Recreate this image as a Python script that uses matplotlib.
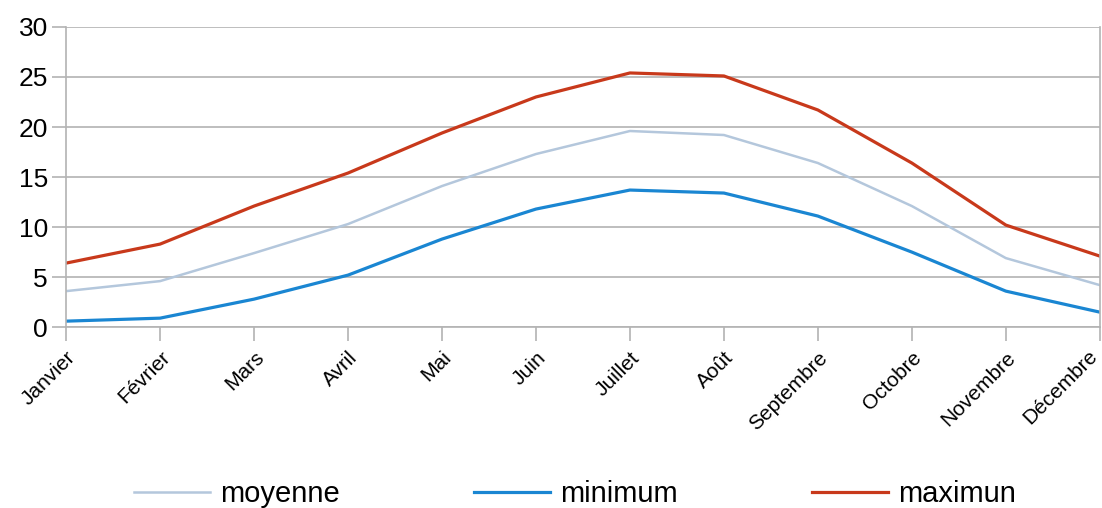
import matplotlib.pyplot as plt
from matplotlib import font_manager
from matplotlib.transforms import ScaledTranslation

# donnees
mois = ['Janvier', 'Février', 'Mars', 'Avril', 'Mai', 'Juin', 'Juillet',
        'Août', 'Septembre', 'Octobre', 'Novembre', 'Décembre']
moyenne = [3.6, 4.6, 7.4, 10.3, 14.1, 17.3, 19.6, 19.2, 16.4, 12.1, 6.9, 4.2]
minimum = [0.6, 0.9, 2.8, 5.2, 8.8, 11.8, 13.7, 13.4, 11.1, 7.5, 3.6, 1.5]
maximun = [6.4, 8.3, 12.1, 15.4, 19.4, 23.0, 25.4, 25.1, 21.7, 16.4, 10.2, 7.1]

noms = [f.name for f in font_manager.fontManager.ttflist]
police = 'Liberation Sans' if 'Liberation Sans' in noms else 'DejaVu Sans'
plt.rcParams['font.family'] = [police, 'DejaVu Sans']

gris = '#b3b3b3'

fig = plt.figure(figsize=(11.02, 5.08), dpi=100)
ax = fig.add_axes([0.06, 0.356, 0.938, 0.591])

x = range(len(mois))
ax.plot(x, moyenne, color='#b4c7dc', lw=1.8, label='moyenne')
ax.plot(x, minimum, color='#1a86d2', lw=2.3, label='minimum')
ax.plot(x, maximun, color='#c8391b', lw=2.3, label='maximun')

ax.set_xlim(0, len(mois) - 1)
ax.set_ylim(0, 30)
ax.set_yticks(range(0, 31, 5))
ax.set_xticks(list(x))
ax.set_xticklabels(mois, rotation=45, ha='right', rotation_mode='anchor', fontsize=15)
ax.tick_params(axis='y', labelsize=19, length=10, color=gris, width=1.2, pad=3)
ax.tick_params(axis='x', length=10, color=gris, width=1.2, pad=5)
ax.grid(axis='y', color=gris, lw=1.2)
ax.set_axisbelow(True)
for s in ['left', 'right', 'bottom']:
    ax.spines[s].set_color(gris)
    ax.spines[s].set_linewidth(1.2)
ax.spines['top'].set_visible(False)

# decaler un peu "Décembre" pour qu'il reste dans l'image
dernier = ax.get_xticklabels()[-1]
dernier.set_transform(dernier.get_transform() + ScaledTranslation(-0.12, 0.02, fig.dpi_scale_trans))

fig.legend(loc='center', bbox_to_anchor=(0.522, 0.028), ncol=3, frameon=False,
           prop={'size': 21}, handlelength=2.6,
           handletextpad=0.35, columnspacing=4.6)

fig.savefig('out.png', dpi=100)
